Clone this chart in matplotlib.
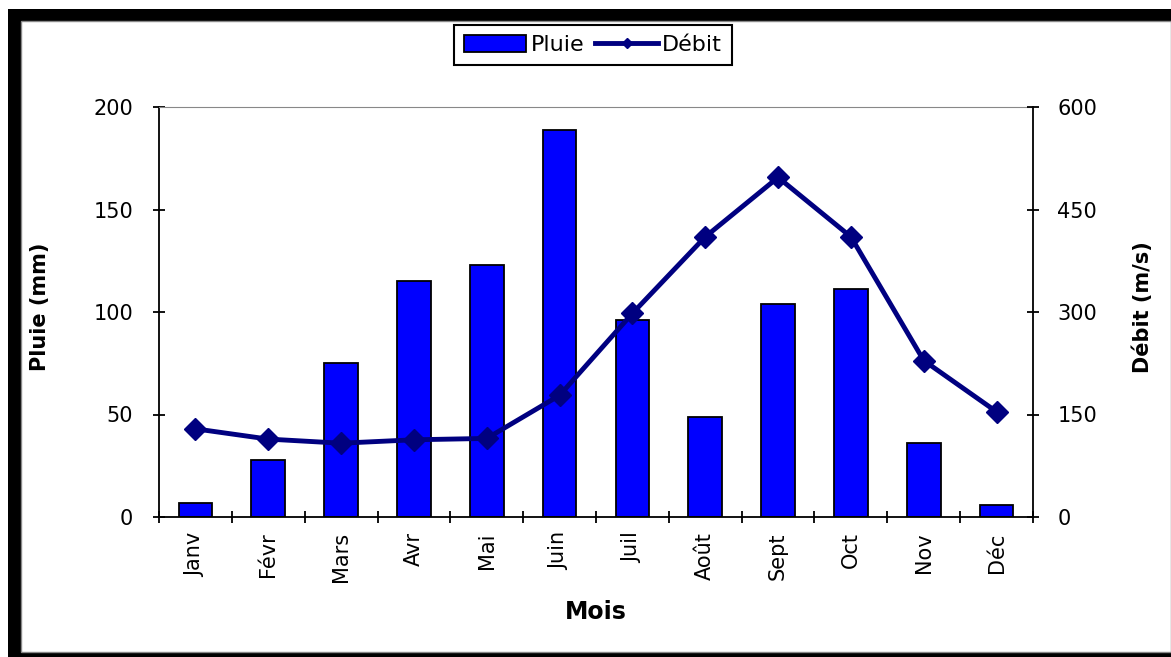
import matplotlib.pyplot as plt
from matplotlib.patches import Rectangle

plt.rcParams['font.family'] = ['DejaVu Sans']

mois = ['Janv', 'Févr', 'Mars', 'Avr', 'Mai', 'Juin',
        'Juil', 'Août', 'Sept', 'Oct', 'Nov', 'Déc']
pluie = [7, 28, 75, 115, 123, 189, 96, 49, 104, 111, 36, 6]
debit = [129, 114, 108, 113, 115, 178, 298, 410, 497, 410, 229, 154]

W, H = 1171, 657
fig = plt.figure(figsize=(W / 100, H / 100), dpi=100)

# cadre noir autour de la figure
fig.patches.append(Rectangle((8 / W, 0), 1, 1 - 9 / H, transform=fig.transFigure,
                             facecolor='black', edgecolor='none', zorder=-2))
fig.patches.append(Rectangle((21 / W, 5 / H), (1171 - 21) / W, (652 - 21) / H,
                             transform=fig.transFigure, facecolor='white',
                             edgecolor='#888888', linewidth=1, zorder=-1))

ax = fig.add_axes([159 / W, 1 - 517 / H, (1033 - 159) / W, (517 - 107) / H])
ax.patch.set_alpha(0)
x = list(range(len(mois)))

bars = ax.bar(x, pluie, width=0.46, color='#0000FF', edgecolor='black',
              linewidth=1.3, label='Pluie', zorder=2)
ax.set_xlim(-0.5, 11.5)
ax.set_ylim(0, 200)
ax.set_yticks([0, 50, 100, 150, 200])
ax.set_xticks([i - 0.5 for i in range(13)])
ax.set_xticklabels([])
ax.set_xticks(x, minor=True)
ax.set_xticklabels(mois, minor=True, rotation=90, va='top', fontsize=15)
ax.tick_params(axis='x', which='minor', length=0, pad=11)
ax.tick_params(axis='x', which='major', direction='inout', length=9, width=1.3)
ax.tick_params(axis='y', direction='inout', length=9, width=1.3, labelsize=15, pad=14)
ax.spines['top'].set_color('#888888')
ax.spines['right'].set_visible(False)
for s in ['left', 'bottom']:
    ax.spines[s].set_linewidth(1.3)

ax2 = ax.twinx()
line, = ax2.plot(x, debit, color='#000080', linewidth=3.5, marker='D',
                 markersize=11, label='Débit', zorder=3)
ax2.set_ylim(0, 600)
ax2.set_yticks([0, 150, 300, 450, 600])
ax2.tick_params(axis='y', direction='inout', length=9, width=1.3, labelsize=15, pad=13)
ax2.spines['right'].set_linewidth(1.3)
ax2.spines['top'].set_visible(False)
ax2.spines['left'].set_visible(False)
ax2.spines['bottom'].set_visible(False)

fig.text(40 / W, 1 - 307 / H, 'Pluie (mm)', rotation=90, ha='center', va='center',
         fontsize=15, fontweight='bold')
fig.text(1143 / W, 1 - 307 / H, 'Débit (m/s)', rotation=90, ha='center', va='center',
         fontsize=15, fontweight='bold')
fig.text(596 / W, 1 - 612 / H, 'Mois', ha='center', va='center',
         fontsize=17, fontweight='bold')

leg = fig.legend([bars, line], ['Pluie', 'Débit'], loc='center',
                 bbox_to_anchor=(593 / W, 1 - 45 / H), ncol=2, fontsize=16,
                 frameon=True, fancybox=False, edgecolor='black', framealpha=1,
                 handlelength=2.8, handleheight=0.8, handletextpad=0.2,
                 columnspacing=0.5, borderpad=0.45, borderaxespad=0,
                 markerscale=0.5)
leg.get_frame().set_linewidth(1.5)

fig.savefig('out.png', dpi=100)
